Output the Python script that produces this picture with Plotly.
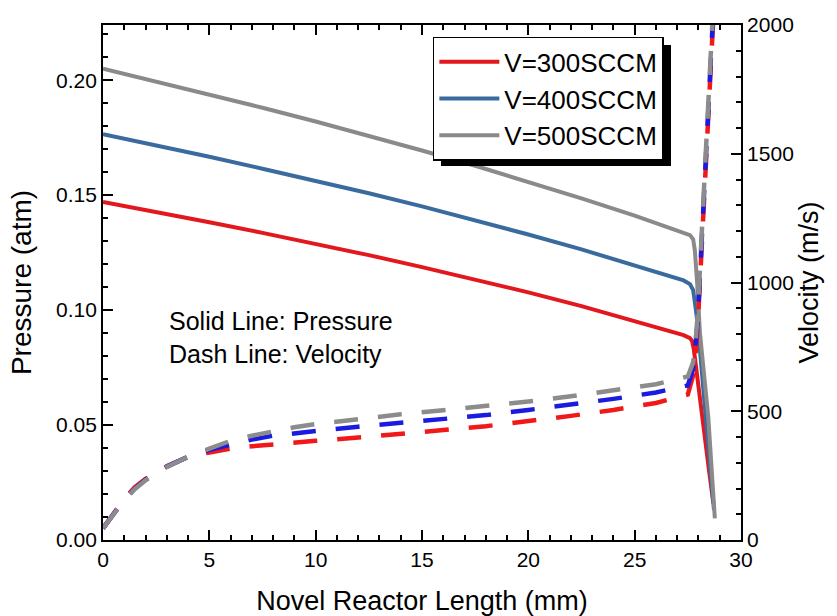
import plotly.graph_objects as go

# ---------------- data ----------------
# Pressure (atm) along the reactor length (mm)
x_p300 = [0, 2.5, 5, 7.5, 10, 12.5, 15, 17.5, 20, 22.5, 25, 26.5, 27.3, 27.6, 27.7, 27.78, 27.99, 28.3, 28.5, 28.7]
p300 = [0.147, 0.1427, 0.1382, 0.1336, 0.1288, 0.1239, 0.1187, 0.1133, 0.1077, 0.1017, 0.0953, 0.0913, 0.0891,
        0.0878, 0.0865, 0.0830, 0.0667, 0.0435, 0.0300, 0.0160]

x_p400 = [0, 2.5, 5, 7.5, 10, 12.5, 15, 17.5, 20, 22.5, 25, 26.5, 27.3, 27.6, 27.75, 27.88, 27.99, 28.3, 28.5, 28.73]
p400 = [0.1765, 0.1717, 0.1667, 0.1615, 0.1562, 0.1508, 0.1451, 0.1391, 0.1329, 0.1264, 0.1196, 0.1153, 0.1129,
        0.1113, 0.1087, 0.1000, 0.0913, 0.0580, 0.0380, 0.0130]

x_p500 = [0, 2.5, 5, 7.5, 10, 12.5, 15, 17.5, 20, 22.5, 25, 26.5, 27.3, 27.6, 27.75, 27.83, 27.94, 28.07, 28.46, 28.77]
p500 = [0.205, 0.1994, 0.1938, 0.1880, 0.1820, 0.1758, 0.1694, 0.1628, 0.1558, 0.1486, 0.1411, 0.1364, 0.1339,
        0.1326, 0.1308, 0.1260, 0.1116, 0.0899, 0.0536, 0.0094]

# Velocity (m/s) along the reactor length (mm)
x_v = [0, 0.5, 1, 1.5, 2, 3, 4, 5, 6, 7, 8, 9, 10, 12, 14, 16, 18, 20, 22, 24, 26, 27.5,
       27.75, 27.85, 27.95, 28.05, 28.1, 28.2, 28.3, 28.4, 28.5, 28.6, 28.7, 28.77]
v300 = [45, 100, 160, 205, 237, 286, 323, 340, 355, 364, 372, 379, 385, 398, 411, 427, 442, 460, 482, 505, 532, 565,
        640, 710, 810, 970, 1060, 1230, 1390, 1550, 1710, 1870, 2030, 2150]
v400 = [45, 98, 157, 200, 234, 285, 323, 350, 372, 390, 405, 415, 423, 440, 455, 469, 485, 505, 525, 548, 573, 600,
        665, 735, 835, 995, 1085, 1255, 1415, 1575, 1735, 1895, 2055, 2175]
v500 = [45, 97, 155, 198, 232, 284, 323, 355, 385, 405, 423, 438, 450, 470, 488, 504, 520, 538, 558, 580, 605, 635,
        690, 760, 860, 1020, 1110, 1280, 1440, 1600, 1760, 1920, 2080, 2200]

series_names = ["V=300SCCM", "V=400SCCM", "V=500SCCM"]
p_colors = ["#e3171e", "#3a6b9e", "#8a8a8a"]
v_colors = ["#f01818", "#1a1ae0", "#8c8c8c"]

x_ticks = [0, 5, 10, 15, 20, 25, 30]
p_ticks = [0.00, 0.05, 0.10, 0.15, 0.20]
v_ticks = [0, 500, 1000, 1500, 2000]

FONT = "Liberation Sans, Arial, sans-serif"

fig = go.Figure()

# pressure (solid, left axis)
for xs, ys, name, col in zip([x_p300, x_p400, x_p500], [p300, p400, p500], series_names, p_colors):
    fig.add_trace(go.Scatter(x=xs, y=ys, mode="lines", name=name,
                             line=dict(color=col, width=4), yaxis="y"))

# velocity (dashed, right axis)
for ys, name, col in zip([v300, v400, v500], series_names, v_colors):
    fig.add_trace(go.Scatter(x=x_v, y=ys, mode="lines", name=name + " velocity", showlegend=False,
                             line=dict(color=col, width=4.5, dash="24px,20px"), yaxis="y2"))

axis_common = dict(showline=True, linecolor="black", linewidth=1.8, ticks="inside", ticklen=10,
                   tickwidth=1.5, tickcolor="black", showgrid=False, zeroline=False, automargin=False,
                   tickfont=dict(family=FONT, size=21, color="black"))

fig.update_layout(
    width=837, height=616,
    margin=dict(l=103, r=96, t=25, b=76, autoexpand=False),
    paper_bgcolor="white", plot_bgcolor="white",
    font=dict(family=FONT, color="black"),
    xaxis=dict(range=[0, 30], tickvals=x_ticks, mirror="ticks",
               minor=dict(dtick=1, ticks="inside", ticklen=5, tickwidth=1.5, tickcolor="black"),
               title=dict(text="Novel Reactor Length (mm)", font=dict(family=FONT, size=27), standoff=23),
               **axis_common),
    yaxis=dict(range=[0, 0.224], tickvals=p_ticks, tickformat=".2f",
               minor=dict(dtick=0.01, ticks="inside", ticklen=5, tickwidth=1.5, tickcolor="black"),
               title=dict(text="Pressure (atm)", font=dict(family=FONT, size=28), standoff=16),
               **axis_common),
    yaxis2=dict(range=[0, 2000], tickvals=v_ticks, overlaying="y", side="right",
                minor=dict(dtick=100, ticks="inside", ticklen=5, tickwidth=1.5, tickcolor="black"),
                title=dict(text="Velocity (m/s)", font=dict(family=FONT, size=27), standoff=5),
                **axis_common),
    legend=dict(x=0.517, y=0.977, xanchor="left", yanchor="top", bgcolor="white",
                bordercolor="black", borderwidth=1.5, itemwidth=60, tracegroupgap=0,
                font=dict(family=FONT, size=26, color="black")),
    showlegend=True,
)

# drop shadow behind the legend box
fig.add_shape(type="rect", xref="paper", yref="paper", layer="above",
              x0=(441 - 103) / 638, x1=(671 - 103) / 638,
              y0=(540 - 166) / 515, y1=(540 - 45) / 515,
              fillcolor="black", line=dict(width=0))

fig.add_annotation(x=3.0, y=0.0879, xref="x", yref="y", xanchor="left", yanchor="middle",
                   align="left", showarrow=False,
                   text="Solid Line: Pressure<br>Dash Line: Velocity",
                   font=dict(family=FONT, size=25, color="black"))

fig.write_html("out.html")
